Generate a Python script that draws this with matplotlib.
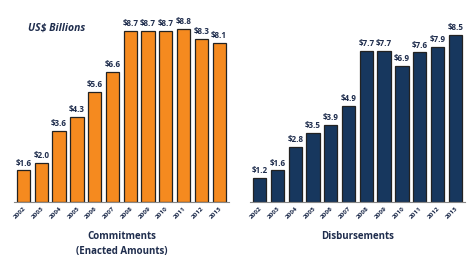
import matplotlib.pyplot as plt

years = ['2002', '2003', '2004', '2005', '2006', '2007', '2008',
         '2009', '2010', '2011', '2012', '2013']
commitments = [1.6, 2.0, 3.6, 4.3, 5.6, 6.6, 8.7, 8.7, 8.7, 8.8, 8.3, 8.1]
disbursements = [1.2, 1.6, 2.8, 3.5, 3.9, 4.9, 7.7, 7.7, 6.9, 7.6, 7.9, 8.5]

plt.rcParams['font.family'] = ['Open Sans', 'DejaVu Sans']

fig = plt.figure(figsize=(4.75, 2.64), dpi=100)
ax1 = fig.add_axes([0.029, 0.235, 0.453, 0.745])
ax2 = fig.add_axes([0.526, 0.235, 0.453, 0.745])

panels = [
    (ax1, commitments, '#F58A1F', 'Commitments\n(Enacted Amounts)'),
    (ax2, disbursements, '#17375E', 'Disbursements'),
]

for ax, vals, color, label in panels:
    x = range(len(years))
    ax.bar(x, vals, width=0.75, color=color, edgecolor='#222222', linewidth=0.9)
    for xi, v in zip(x, vals):
        ax.text(xi, v + 0.15, f'${v:.1f}', ha='center', va='bottom',
                fontsize=5.8, fontweight='bold', color='#1F2D4D')
    ax.set_xlim(-0.55, 11.55)
    ax.set_ylim(0, 10)
    ax.set_xticks(list(x))
    ax.set_xticklabels(years, rotation=45, ha='right', rotation_mode='anchor',
                       fontsize=4.6, fontweight='bold', color='#1F2D4D')
    ax.tick_params(axis='x', length=0, pad=3)
    ax.set_yticks([])
    for s in ['top', 'right', 'left']:
        ax.spines[s].set_visible(False)
    ax.spines['bottom'].set_color('#888888')
    ax.spines['bottom'].set_linewidth(0.8)
    ax.set_xlabel(label, fontsize=7, fontweight='bold', color='#1F2D4D',
                  labelpad=8, linespacing=1.5)

fig.text(0.06, 0.895, 'US$ Billions', fontsize=7.5, fontweight='bold',
         style='italic', color='#1F2D4D', ha='left', va='center')

fig.savefig('out.png', dpi=100)
